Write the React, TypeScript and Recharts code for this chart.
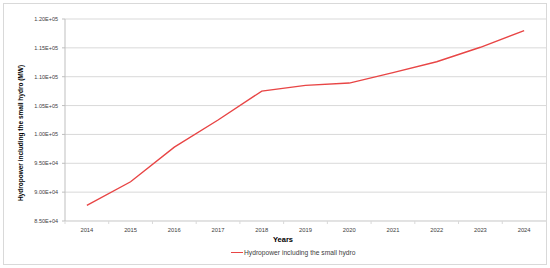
import React from 'react';
import {
  LineChart,
  Line,
  XAxis,
  YAxis,
  CartesianGrid,
  Label,
} from 'recharts';

const years = ['2014', '2015', '2016', '2017', '2018', '2019', '2020', '2021', '2022', '2023', '2024'];
const hydroMW = [87700, 91800, 97800, 102500, 107500, 108500, 108900, 110700, 112600, 115100, 118000];
const yTicks = [85000, 90000, 95000, 100000, 105000, 110000, 115000, 120000];

const seriesName = 'Hydropower including the small hydro';
const yTitle = 'Hydropower including the small hydro (MW)';
const xTitle = 'Years';

const data = years.map((year, i) => ({ year, value: hydroMW[i] }));

const FONT = '"Liberation Sans", Arial, sans-serif';
const GRID = '#d9d9d9';
const RED = '#e84545';

// Excel style: 1.20E+05
const sci = (v: number) => {
  const exp = Math.floor(Math.log10(Math.abs(v)));
  const mant = (v / Math.pow(10, exp)).toFixed(2);
  const sign = exp < 0 ? '-' : '+';
  return `${mant}E${sign}${String(Math.abs(exp)).padStart(2, '0')}`;
};

const YearTick = (props: any) => {
  const { x, y, payload } = props;
  const half = payload && payload.offset ? payload.offset : 21.9;
  return (
    <g>
      <line x1={x - half} x2={x - half} y1={y} y2={y + 3} stroke={GRID} />
      <text
        x={x}
        y={y + 9}
        textAnchor="middle"
        dominantBaseline="central"
        fontSize={5.8}
        fontFamily={FONT}
        fill="#404040"
      >
        {payload.value}
      </text>
    </g>
  );
};

export default function App() {
  return (
    <div style={{ position: 'absolute', left: 0, top: 0, width: 550, height: 268, background: '#fff' }}>
      <div
        style={{
          position: 'absolute',
          left: 3,
          top: 3,
          width: 542,
          height: 260,
          border: `1px solid ${GRID}`,
        }}
      />
      <LineChart
        width={550}
        height={268}
        data={data}
        margin={{ top: 19, right: 4, left: 0, bottom: 27 }}
        style={{ position: 'absolute', left: 0, top: 0 }}
      >
        <CartesianGrid vertical={false} stroke={GRID} />
        <XAxis
          dataKey="year"
          scale="band"
          height={20}
          tickSize={0}
          tickMargin={0}
          tickLine={false}
          axisLine={{ stroke: GRID }}
          tick={<YearTick />}
          interval={0}
        >
          <Label
            content={(p: any) => {
              const vb = p.viewBox;
              return (
                <text
                  x={283}
                  y={vb.y + 18.5}
                  textAnchor="middle"
                  dominantBaseline="central"
                  fontSize={7.5}
                  fontWeight="bold"
                  fontFamily={FONT}
                  fill="#000"
                >
                  {xTitle}
                </text>
              );
            }}
          />
        </XAxis>
        <YAxis
          width={65}
          domain={[85000, 120000]}
          ticks={yTicks}
          tickFormatter={sci}
          tickSize={3}
          tickMargin={4}
          tick={{ fontSize: 5.5, fontFamily: FONT, fill: '#404040' }}
          axisLine={{ stroke: '#bfbfbf' }}
          tickLine={{ stroke: '#bfbfbf' }}
          allowDataOverflow
        >
          <Label
            content={(p: any) => {
              const vb = p.viewBox;
              const cx = 20.5;
              const cy = vb.y + vb.height / 2 + 13;
              return (
                <text
                  x={cx}
                  y={cy}
                  transform={`rotate(-90, ${cx}, ${cy})`}
                  textAnchor="middle"
                  dominantBaseline="central"
                  fontSize={6.5}
                  fontWeight="bold"
                  fontFamily={FONT}
                  fill="#000"
                >
                  {yTitle}
                </text>
              );
            }}
          />
        </YAxis>
        <Line
          type="linear"
          dataKey="value"
          name={seriesName}
          stroke={RED}
          strokeWidth={1.4}
          dot={false}
          isAnimationActive={false}
        />
      </LineChart>
      <div
        style={{
          position: 'absolute',
          left: 231,
          top: 247,
          height: 11,
          display: 'flex',
          alignItems: 'center',
          fontFamily: FONT,
          fontSize: 6.7,
          color: '#404040',
          whiteSpace: 'nowrap',
        }}
      >
        <span style={{ display: 'inline-block', width: 12, height: 1.5, background: RED, marginRight: 1 }} />
        <span>{seriesName}</span>
      </div>
    </div>
  );
}
